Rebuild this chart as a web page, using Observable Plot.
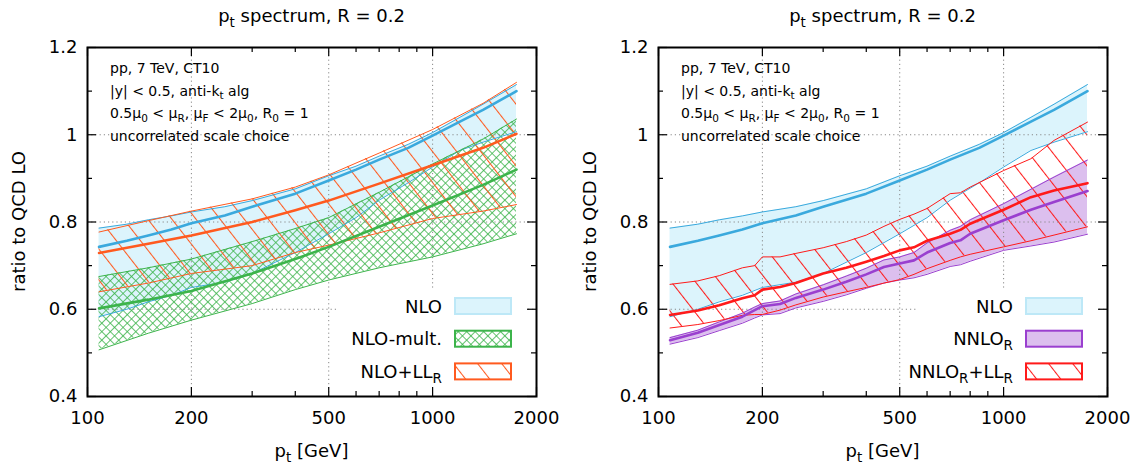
<!DOCTYPE html>
<html><head><meta charset="utf-8">
<script src="https://cdn.jsdelivr.net/npm/d3@7"></script>
<script src="https://cdn.jsdelivr.net/npm/@observablehq/plot@0.6"></script>
<style>
html,body{margin:0;padding:0;background:#fff;}
#wrap{display:flex;width:1142px;height:464px;}
</style></head><body><div id="wrap"></div>
<script>
// ---------------- data ----------------
const titleText = "p_{t} spectrum, R = 0.2";
const xLabel = "p_{t} [GeV]";
const yLabel = "ratio to QCD LO";
const notes = ["pp, 7 TeV, CT10", "|y| < 0.5, anti-k_{t} alg", "0.5μ_{0} < μ_{R}, μ_{F} < 2μ_{0}, R_{0} = 1", "uncorrelated scale choice"];
const xMajor = [100, 200, 500, 1000, 2000];
const xMinor = [300, 400, 600, 700, 800, 900];
const yMajor = [0.4, 0.6, 0.8, 1.0, 1.2];
const yMinor = [0.5, 0.7, 0.9, 1.1];
const xGrid = [200, 500, 1000];
const yGrid = [0.6, 0.8, 1.0];

// NLO (both panels)
const ptNLO  = [108, 130, 150, 175, 200, 250, 300, 400, 500, 600, 700, 850, 1000, 1200, 1400, 1750];
const nloLo  = [0.583,0.600,0.617,0.632,0.650,0.662,0.682,0.730,0.773,0.810,0.850,0.890,0.926,0.964,0.983,1.007];
const nloMid = [0.743,0.757,0.769,0.783,0.797,0.815,0.835,0.865,0.895,0.920,0.943,0.970,0.998,1.030,1.057,1.100];
const nloHi  = [0.786,0.795,0.805,0.814,0.823,0.835,0.849,0.876,0.906,0.928,0.951,0.978,1.005,1.040,1.070,1.115];

// left panel: NLO-mult. and NLO+LL_R
const ptL     = [108, 150, 200, 300, 400, 500, 700, 1000, 1400, 1750];
const multLo  = [0.507,0.545,0.575,0.613,0.645,0.667,0.695,0.720,0.750,0.773];
const multMid = [0.602,0.622,0.642,0.682,0.715,0.743,0.789,0.838,0.885,0.920];
const multHi  = [0.675,0.695,0.715,0.755,0.785,0.810,0.868,0.933,0.990,1.036];
const llLo    = [0.640,0.660,0.682,0.700,0.730,0.747,0.775,0.808,0.825,0.840];
const llMid   = [0.729,0.750,0.769,0.800,0.827,0.849,0.888,0.930,0.970,1.002];
const llHi    = [0.777,0.803,0.825,0.853,0.880,0.908,0.958,1.012,1.072,1.120];

// right panel: NNLO_R and NNLO_R+LL_R
const ptR     = [108, 130, 150, 175, 190, 200, 225, 250, 300, 350, 400, 450, 500, 550, 600, 700, 750, 800, 1000, 1200, 1400, 1750];
const nnloLo  = [0.520,0.535,0.551,0.568,0.580,0.587,0.590,0.603,0.618,0.633,0.648,0.660,0.667,0.672,0.680,0.698,0.702,0.710,0.735,0.745,0.754,0.772];
const nnloMid = [0.529,0.546,0.564,0.583,0.598,0.607,0.612,0.626,0.645,0.663,0.680,0.697,0.705,0.712,0.730,0.752,0.758,0.773,0.804,0.828,0.846,0.871];
const nnloHi  = [0.535,0.552,0.571,0.591,0.605,0.613,0.619,0.635,0.656,0.676,0.694,0.713,0.720,0.730,0.752,0.781,0.790,0.805,0.842,0.875,0.903,0.942];
const nnllLo  = [0.557,0.565,0.574,0.586,0.588,0.588,0.598,0.610,0.628,0.640,0.650,0.660,0.668,0.680,0.693,0.712,0.720,0.726,0.743,0.757,0.770,0.789];
const nnllMid = [0.587,0.597,0.609,0.625,0.632,0.645,0.651,0.660,0.682,0.695,0.709,0.722,0.735,0.742,0.757,0.773,0.782,0.796,0.828,0.857,0.872,0.889];
const nnllHi  = [0.657,0.665,0.677,0.695,0.700,0.720,0.720,0.728,0.741,0.755,0.770,0.790,0.806,0.818,0.831,0.865,0.867,0.880,0.918,0.945,0.987,1.029];

const legendLeft  = ["NLO", "NLO-mult.", "NLO+LL_{R}"];
const legendRight = ["NLO", "NNLO_{R}", "NNLO_{R}+LL_{R}"];

// ---------------- helpers ----------------
const C = {blue:"#3aa9dd", blueFill:"#dcf4fc", blueEdge:"#bde8f7", green:"#3cb44b",
           orange:"#ff5a1f", red:"#ff1a1a", purple:"#9a3fcf", purpleFill:"#dcbfee"};
const rows = (pt, lo, mid, hi) => pt.map((x, i) => ({x, lo: lo[i], mid: mid[i], hi: hi[i]}));
const NLO = rows(ptNLO, nloLo, nloMid, nloHi);
const MULT = rows(ptL, multLo, multMid, multHi);
const LL = rows(ptL, llLo, llMid, llHi);
const NNLO = rows(ptR, nnloLo, nnloMid, nnloHi);
const NNLL = rows(ptR, nnllLo, nnllMid, nnllHi);

function rich(parent, str, {x, y, size, anchor = "start", transform = null}) {
  const t = parent.append("text").attr("x", x).attr("y", y).attr("font-size", size)
    .attr("text-anchor", anchor).attr("fill", "black");
  if (transform) t.attr("transform", transform);
  const parts = [];
  const re = /_\{([^}]*)\}/g; let last = 0, m;
  while ((m = re.exec(str))) {
    if (m.index > last) parts.push([str.slice(last, m.index), false]);
    parts.push([m[1], true]); last = re.lastIndex;
  }
  if (last < str.length) parts.push([str.slice(last), false]);
  let cur = 0; const off = size * 0.26;
  for (const [s, sub] of parts) {
    const d = sub ? off : 0;
    const ts = t.append("tspan").text(s);
    if (d - cur !== 0) ts.attr("dy", d - cur);
    if (sub) ts.attr("font-size", size * 0.75);
    cur = d;
  }
  return t;
}

const IW = 449, IH = 349;
function defsMark(p) {
  return () => {
    const defs = d3.create("svg:defs");
    const h = (id, color) => {
      const pt = defs.append("pattern").attr("id", p + id).attr("patternUnits", "userSpaceOnUse")
        .attr("width", 19).attr("height", 19).attr("patternTransform", "rotate(-38)");
      pt.append("line").attr("x1", 0.5).attr("y1", 0).attr("x2", 0.5).attr("y2", 19)
        .attr("stroke", color).attr("stroke-width", 1.1);
    };
    h("hatchO", C.orange); h("hatchR", C.red);
    const x = defs.append("pattern").attr("id", p + "cross").attr("patternUnits", "userSpaceOnUse")
      .attr("width", 6).attr("height", 6).attr("patternTransform", "rotate(45)");
    x.append("path").attr("d", "M0,0.5H6M0.5,0V6").attr("stroke", C.green).attr("stroke-width", 0.8).attr("fill", "none");
    return defs.node();
  };
}
function legendMark(entries, boxW) {
  return (index, scales, values, dims) => {
    const g = d3.create("svg:g");
    const right = dims.width - dims.marginRight, bottom = dims.height - dims.marginBottom;
    g.append("rect").attr("x", right - boxW).attr("y", bottom - 106).attr("width", boxW - 10)
      .attr("height", 105).attr("fill", "white");
    entries.forEach((e, i) => {
      const cy = bottom - 90 + i * 32.7;
      g.append("rect").attr("x", right - 81).attr("y", cy - 8).attr("width", 56).attr("height", 16)
        .attr("fill", e.fill).attr("stroke", e.stroke).attr("stroke-width", 2);
      rich(g, e.label, {x: right - 94, y: cy + 6.5, size: 18, anchor: "end"});
    });
    return g.node();
  };
}
function textMark() {
  return (index, scales, values, dims) => {
    const g = d3.create("svg:g").attr("font-family", "'DejaVu Sans', sans-serif");
    const cx = dims.marginLeft + IW / 2;
    rich(g, titleText, {x: cx, y: 22, size: 18, anchor: "middle"});
    rich(g, xLabel, {x: cx, y: 457, size: 18, anchor: "middle"});
    rich(g, yLabel, {x: 0, y: 0, size: 18, anchor: "middle",
      transform: `translate(25,${dims.marginTop + IH / 2}) rotate(-90)`});
    notes.forEach((s, i) => rich(g, s, {x: dims.marginLeft + 23, y: 73 + i * 22.7, size: 14}));
    return g.node();
  };
}
function frameMarks() {
  const tk = {stroke: "black", strokeWidth: 1.2};
  return [
    Plot.ruleX(xMajor, {...tk, insetTop: IH - 9}), Plot.ruleX(xMajor, {...tk, insetBottom: IH - 9}),
    Plot.ruleX(xMinor, {...tk, insetTop: IH - 5}), Plot.ruleX(xMinor, {...tk, insetBottom: IH - 5}),
    Plot.ruleY(yMajor, {...tk, insetRight: IW - 9}), Plot.ruleY(yMajor, {...tk, insetLeft: IW - 9}),
    Plot.ruleY(yMinor, {...tk, insetRight: IW - 5}), Plot.ruleY(yMinor, {...tk, insetLeft: IW - 5}),
    Plot.frame({stroke: "black", strokeWidth: 2}),
    Plot.axisX(xMajor, {tickSize: 0, tickPadding: 15, fontSize: 18, tickFormat: d => String(d), label: null}),
    Plot.axisY(yMajor, {tickSize: 0, tickPadding: 10, fontSize: 18, tickFormat: d => String(+d.toFixed(1)), label: null})
  ];
}
const gridMarks = () => [
  Plot.ruleX(xGrid, {stroke: "#888", strokeDasharray: "1.2,3", strokeWidth: 1}),
  Plot.ruleY(yGrid, {stroke: "#888", strokeDasharray: "1.2,3", strokeWidth: 1})
];
const edge = (data, color, w = 1) => [
  Plot.lineY(data, {x: "x", y: "lo", stroke: color, strokeWidth: w}),
  Plot.lineY(data, {x: "x", y: "hi", stroke: color, strokeWidth: w})
];
const mid = (data, color) => Plot.lineY(data, {x: "x", y: "mid", stroke: color, strokeWidth: 2.6});

function panel(marks) {
  return Plot.plot({
    width: 571, height: 464, marginLeft: 87, marginRight: 35, marginTop: 47, marginBottom: 68,
    x: {type: "log", domain: [100, 2000]},
    y: {domain: [0.4, 1.2]},
    style: {fontFamily: "'DejaVu Sans', sans-serif", background: "white", color: "black", overflow: "visible"},
    marks
  });
}

const left = panel([
  defsMark("L"),
  Plot.areaY(NLO, {x: "x", y1: "lo", y2: "hi", fill: C.blueFill}),
  Plot.areaY(MULT, {x: "x", y1: "lo", y2: "hi", fill: "url(#Lcross)"}),
  Plot.areaY(LL, {x: "x", y1: "lo", y2: "hi", fill: "url(#LhatchO)"}),
  ...gridMarks(),
  ...edge(NLO, C.blue), ...edge(MULT, C.green), ...edge(LL, C.orange),
  mid(NLO, C.blue), mid(MULT, C.green), mid(LL, C.orange),
  legendMark([
    {label: legendLeft[0], fill: C.blueFill, stroke: C.blueEdge},
    {label: legendLeft[1], fill: "url(#Lcross)", stroke: C.green},
    {label: legendLeft[2], fill: "url(#LhatchO)", stroke: C.orange}
  ], 200),
  textMark(),
  ...frameMarks()
]);
const right = panel([
  defsMark("R"),
  Plot.areaY(NLO, {x: "x", y1: "lo", y2: "hi", fill: C.blueFill}),
  Plot.areaY(NNLO, {x: "x", y1: "lo", y2: "hi", fill: C.purpleFill}),
  Plot.areaY(NNLL, {x: "x", y1: "lo", y2: "hi", fill: "url(#RhatchR)"}),
  ...gridMarks(),
  ...edge(NLO, C.blue), ...edge(NNLO, C.purple), ...edge(NNLL, C.red),
  mid(NLO, C.blue), mid(NNLO, C.purple), mid(NNLL, C.red),
  legendMark([
    {label: legendRight[0], fill: C.blueFill, stroke: C.blueEdge},
    {label: legendRight[1], fill: C.purpleFill, stroke: C.purple},
    {label: legendRight[2], fill: "url(#RhatchR)", stroke: C.red}
  ], 190),
  textMark(),
  ...frameMarks()
]);
document.getElementById("wrap").append(left, right);
</script></body></html>
